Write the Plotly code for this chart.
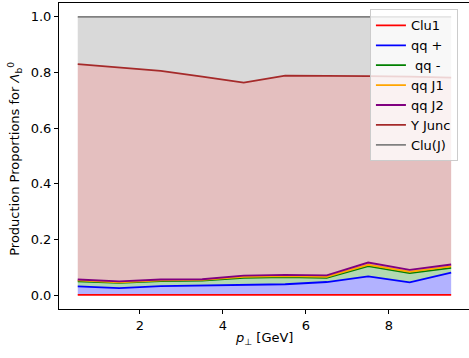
import plotly.graph_objects as go

pt = [0.5, 1.5, 2.5, 3.5, 4.5, 5.5, 6.5, 7.5, 8.5, 9.5]

series_names = ["Clu1", "qq +", " qq -", "qq J1", "qq J2", "Y Junc", "Clu(J)"]
clu1 = [0.001, 0.001, 0.001, 0.001, 0.001, 0.001, 0.001, 0.001, 0.001, 0.001]
qq_plus = [0.030, 0.024, 0.031, 0.034, 0.036, 0.038, 0.046, 0.066, 0.045, 0.080]
qq_minus = [0.018, 0.019, 0.018, 0.017, 0.025, 0.026, 0.015, 0.037, 0.033, 0.017]
qq_j1 = [0.004, 0.002, 0.003, 0.003, 0.004, 0.003, 0.004, 0.005, 0.005, 0.005]
qq_j2 = [0.003, 0.003, 0.003, 0.002, 0.004, 0.005, 0.005, 0.008, 0.007, 0.007]
y_junc = [0.774, 0.770, 0.750, 0.728, 0.694, 0.716, 0.718, 0.670, 0.694, 0.672]
clu_j = [0.170, 0.181, 0.194, 0.215, 0.236, 0.211, 0.211, 0.213, 0.215, 0.218]

line_colors = ["#ff0000", "#0000ff", "#008000", "#ffa500", "#800080", "#a52a2a", "#808080"]
fill_colors = ["rgba(255,0,0,0.3)", "rgba(0,0,255,0.3)", "rgba(0,128,0,0.3)",
               "rgba(255,165,0,0.3)", "rgba(128,0,128,0.3)", "rgba(165,42,42,0.3)",
               "rgba(128,128,128,0.3)"]

all_series = [clu1, qq_plus, qq_minus, qq_j1, qq_j2, y_junc, clu_j]

fig = go.Figure()
for name, vals, lc, fc in zip(series_names, all_series, line_colors, fill_colors):
    fig.add_trace(go.Scatter(
        x=pt, y=vals, name=name, mode="lines", stackgroup="one",
        line=dict(color=lc, width=1.8), fillcolor=fc, showlegend=False,
    ))
# legend entries drawn as plain lines (like the reference legend)
for name, lc in zip(series_names, line_colors):
    fig.add_trace(go.Scatter(
        x=[None], y=[None], name=name, mode="lines",
        line=dict(color=lc, width=1.8), showlegend=True,
    ))

font = "DejaVu Sans"
fig.update_layout(
    width=469, height=358,
    margin=dict(l=59, r=0, t=3, b=49),
    paper_bgcolor="white", plot_bgcolor="white",
    font=dict(family=font, size=13, color="black"),
    showlegend=True,
    legend=dict(
        x=0.973, y=0.979, xanchor="right", yanchor="top",
        bgcolor="rgba(255,255,255,0.8)", bordercolor="#cccccc", borderwidth=1,
        font=dict(family=font, size=13, color="black"),
        traceorder="normal",
    ),
    xaxis=dict(
        range=[0.048, 9.93], tickvals=[2, 4, 6, 8], ticktext=["2", "4", "6", "8"],
        showline=True, linecolor="black", linewidth=1, mirror=True,
        ticks="outside", ticklen=4, tickcolor="black",
        showgrid=False, zeroline=False, automargin=False,
    ),
    yaxis=dict(
        range=[-0.05, 1.05], tickvals=[0, 0.2, 0.4, 0.6, 0.8, 1.0],
        ticktext=["0.0", "0.2", "0.4", "0.6", "0.8", "1.0"],
        showline=True, linecolor="black", linewidth=1, mirror=True,
        ticks="outside", ticklen=4, tickcolor="black",
        showgrid=False, zeroline=False, automargin=False,
    ),
    annotations=[
        dict(text="<i>p</i><sub>⊥</sub> [GeV]", xref="paper", yref="paper",
             x=0.5, y=-0.098, xanchor="center", yanchor="middle",
             showarrow=False, font=dict(size=13)),
        dict(text="Production Proportions for <i>Λ</i><sub>b</sub><sup>0</sup>",
             xref="paper", yref="paper", x=-0.108, y=0.49, xanchor="center",
             yanchor="middle", textangle=-90, showarrow=False, font=dict(size=13)),
    ],
)

fig.write_html("out.html", config={"displayModeBar": False},
               post_script="document.body.style.margin='0';document.body.style.overflow='hidden';")
